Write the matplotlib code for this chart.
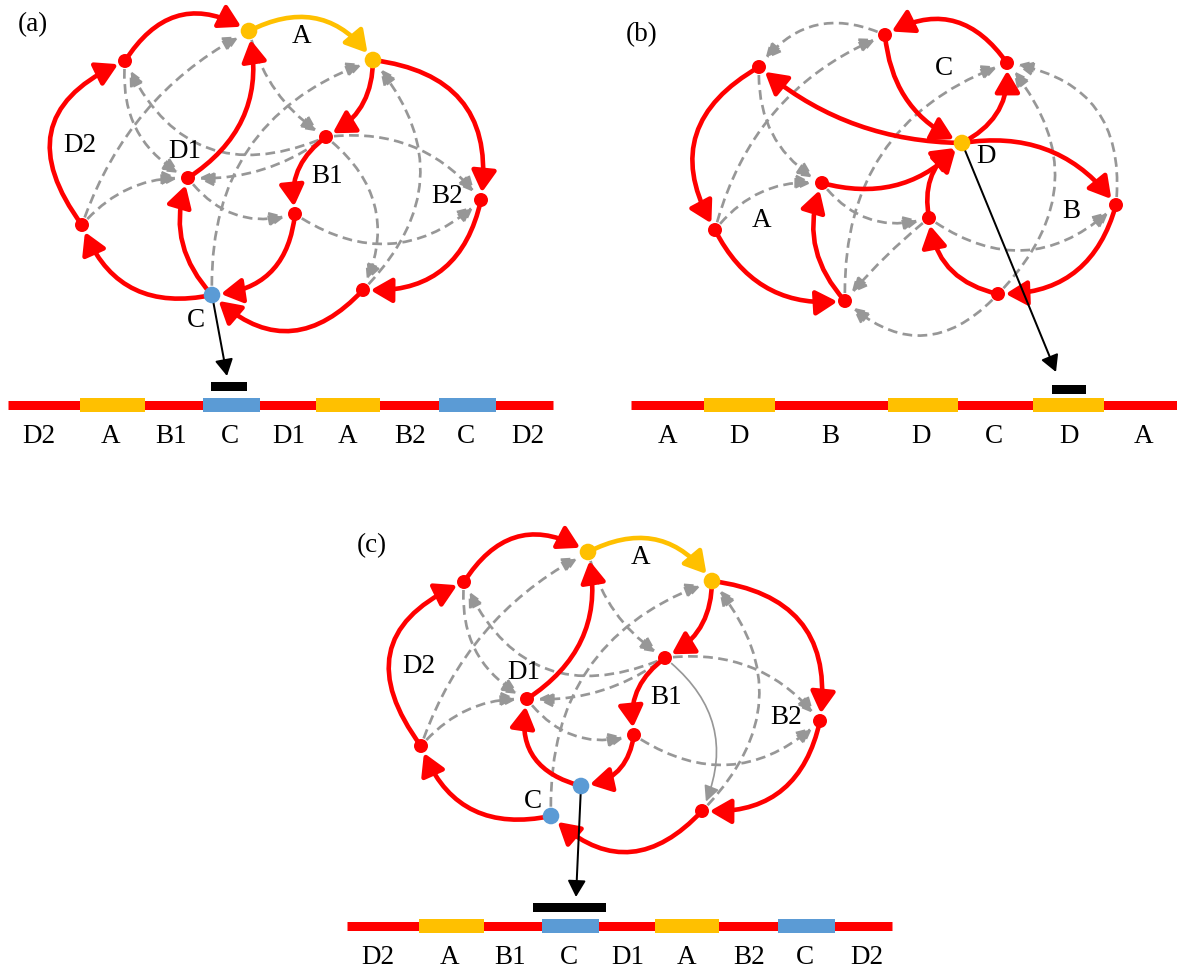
import matplotlib
matplotlib.use('Agg')
import matplotlib.pyplot as plt
from matplotlib.patches import FancyArrowPatch

plt.rcParams['font.family'] = ['Liberation Serif', 'DejaVu Serif']

RED = '#ff0000'
YELLOW = '#ffc000'
BLUE = '#5b9bd5'
GRAY = '#979797'
PT = 0.72          # points per pixel at 100 dpi
FS = 19.5

# --- graph shared by (a) and (c); (c) is drawn shifted by C_SHIFT ---
ac_pos = {
    'A1': (249, 31), 'A2': (373, 60), 'N': (125, 61), 'D1': (188, 178),
    'B1t': (326, 137), 'B1l': (295, 214), 'B2': (481, 200), 'D2': (82, 225),
    'C': (212, 295), 'BR': (363, 290), 'Cu': (242, 265),
}
ac_kind = {'A1': 'A', 'A2': 'A', 'C': 'C', 'Cu': 'C'}
C_SHIFT = (339, 521)

# (src, dst, rad) -- arc3 bend of each edge
a_red = [('D2', 'N', -0.62), ('N', 'A1', -0.48), ('A2', 'B1t', -0.3),
         ('A2', 'B2', -0.5), ('B1t', 'B1l', 0.31), ('B1l', 'C', -0.41),
         ('C', 'D1', -0.3), ('D1', 'A1', 0.34), ('C', 'D2', -0.42),
         ('B2', 'BR', -0.42), ('BR', 'C', -0.5)]
c_red = [('D2', 'N', -0.62), ('N', 'A1', -0.48), ('A2', 'B1t', -0.3),
         ('A2', 'B2', -0.5), ('B1t', 'B1l', 0.31), ('B1l', 'Cu', -0.38),
         ('Cu', 'D1', -0.47), ('D1', 'A1', 0.34), ('C', 'D2', -0.42),
         ('B2', 'BR', -0.42), ('BR', 'C', -0.5)]
ac_yellow = [('A1', 'A2', -0.42)]
ac_gray = [('D2', 'A1', -0.2), ('D2', 'D1', -0.24), ('N', 'D1', 0.33),
           ('B1t', 'N', -0.48), ('B1t', 'D1', -0.18), ('A1', 'B1t', 0.2),
           ('C', 'A2', -0.365), ('D1', 'B1l', 0.34), ('B1t', 'B2', -0.28),
           ('BR', 'A2', 0.45), ('B1l', 'B2', 0.39)]
a_gray_extra = [('B1t', 'BR', -0.39)]
c_solid_gray = [('B1t', 'BR', -0.39)]

ac_text = [('A', 302, 43), ('D2', 80, 152), ('D1', 185, 158),
           ('B1', 327, 183), ('B2', 447, 203)]
a_c_label = ('C', 196, 327)
c_c_label = ('C', 194, 287)

# --- graph (b) ---
b_pos = {
    'C1': (885, 35), 'C2': (1007, 63), 'LT': (759, 67), 'D': (962, 143),
    'M': (822, 183), 'AL': (715, 230), 'BRb': (1116, 205), 'IN': (929, 218),
    'BL': (845, 301), 'BRt': (998, 294),
}
b_kind = {'D': 'D'}
b_red = [('D', 'LT', -0.18), ('LT', 'AL', 0.5), ('AL', 'BL', 0.34),
         ('BL', 'M', -0.3), ('M', 'D', 0.3), ('C2', 'C1', 0.45),
         ('C1', 'D', 0.29), ('D', 'C2', 0.33), ('D', 'BRb', -0.3),
         ('BRb', 'BRt', -0.38), ('BRt', 'IN', -0.35), ('IN', 'D', -0.34)]
b_gray = [('C1', 'LT', 0.4), ('AL', 'C1', -0.25), ('LT', 'M', 0.3),
          ('AL', 'M', -0.27), ('BL', 'C2', -0.36), ('M', 'IN', 0.34),
          ('IN', 'BL', 0.05), ('BRt', 'BL', -0.49), ('IN', 'BRb', 0.41),
          ('BRt', 'C2', 0.45), ('BRb', 'C2', 0.47)]
b_text = [('C', 944, 75), ('D', 986, 163), ('A', 762, 227), ('B', 1071, 218)]

# --- linear sequences under each graph ---
a_track = (8, 553, 405)
a_boxes = [(80, 145, 'A'), (203, 260, 'C'), (316, 380, 'A'), (439, 496, 'C')]
a_seq = ['D2', 'A', 'B1', 'C', 'D1', 'A', 'B2', 'C', 'D2']
a_seq_x = [39, 111, 171, 230, 289, 348, 410, 466, 528]
a_mark = (211, 247, 387)
a_pointer = ('C', (227, 376))
c_mark = (194, 267, 387)
c_pointer = ('Cu', (237, 376))

b_track = (631, 1177, 405)
b_boxes = [(704, 775, 'D'), (888, 958, 'D'), (1033, 1104, 'D')]
b_seq = ['A', 'D', 'B', 'D', 'C', 'D', 'A']
b_seq_x = [668, 739, 830, 921, 994, 1069, 1144]
b_mark = (1052, 1086, 390)
b_pointer = ('D', (1056, 372))

SEQ_BASELINE = 443
panel_tags = [('(a)', 33, 25), ('(b)', 642, 35), ('(c)', 372, 546)]

kind_color = {'A': YELLOW, 'C': BLUE, 'D': YELLOW}


def node_color(kind, name):
    return kind_color.get(kind.get(name), RED)


def node_r(kind, name):
    return 8.3 if name in kind else 7


def shift(p, off):
    return (p[0] + off[0], p[1] + off[1])


def edge(ax, p, q, rad, color, lw, ls, hl, hw, sa, sb, z):
    ax.add_patch(FancyArrowPatch(
        p, q, connectionstyle=f'arc3,rad={rad}',
        arrowstyle=f'-|>,head_length={hl},head_width={hw}',
        mutation_scale=10, color=color, lw=lw, linestyle=ls,
        shrinkA=sa, shrinkB=sb, joinstyle='round', capstyle='butt',
        zorder=z))


def draw_graph(ax, pos, kind, red, yellow, gray, solid_gray, off):
    P = {k: shift(v, off) for k, v in pos.items()}
    for s, t, rad in gray:
        edge(ax, P[s], P[t], rad, GRAY, 2.7 * PT, (0, (3.6, 2.0)), 0.95, 0.46,
             (node_r(kind, s) + 1) * PT, (node_r(kind, t) + 3) * PT, 2)
    for s, t, rad in solid_gray:
        edge(ax, P[s], P[t], rad, GRAY, 1.7 * PT, '-', 0.95, 0.46,
             (node_r(kind, s) + 1) * PT, (node_r(kind, t) + 3) * PT, 2)
    for s, t, rad in red:
        edge(ax, P[s], P[t], rad, RED, 4.6 * PT, '-', 1.3, 0.75,
             0, (node_r(kind, t) + 0.5) * PT, 3)
    for s, t, rad in yellow:
        edge(ax, P[s], P[t], rad, YELLOW, 4.6 * PT, '-', 1.3, 0.75,
             0, (node_r(kind, t) + 0.5) * PT, 3)
    names = list(pos)
    xs = [P[n][0] for n in names]
    ys = [P[n][1] for n in names]
    sizes = [(2 * node_r(kind, n) * PT) ** 2 for n in names]
    cols = [node_color(kind, n) for n in names]
    ax.scatter(xs, ys, s=sizes, c=cols, linewidths=0, zorder=5)
    return P


def draw_track(ax, track, boxes, seq, seq_x, mark, off):
    x0, x1, y = track
    ax.plot([x0 + off[0], x1 + off[0]], [y + off[1]] * 2, color=RED,
            lw=9 * PT, solid_capstyle='butt', zorder=2)
    for b0, b1, k in boxes:
        ax.broken_barh([(b0 + off[0], b1 - b0)], (y + off[1] - 7, 14),
                       facecolors=kind_color[k], zorder=3)
    m0, m1, my = mark
    ax.broken_barh([(m0 + off[0], m1 - m0)], (my + off[1] - 4.5, 9),
                   facecolors='black', zorder=3)
    for s, x in zip(seq, seq_x):
        ax.text(x + off[0], SEQ_BASELINE + off[1], s, fontsize=FS,
                ha='center', va='baseline', zorder=6)


def pointer(ax, start, tip):
    ax.add_patch(FancyArrowPatch(
        start, tip, arrowstyle='-|>,head_length=1.0,head_width=0.55',
        mutation_scale=10, color='black', lw=2 * PT, shrinkA=0, shrinkB=0,
        joinstyle='round', zorder=4))


fig = plt.figure(figsize=(11.77, 9.71), dpi=100)
ax = fig.add_axes([0, 0, 1, 1])
ax.set_xlim(0, 1177)
ax.set_ylim(971, 0)
ax.axis('off')

# (a)
Pa = draw_graph(ax, {k: v for k, v in ac_pos.items() if k != 'Cu'}, ac_kind,
                a_red, ac_yellow, ac_gray + a_gray_extra, [], (0, 0))
draw_track(ax, a_track, a_boxes, a_seq, a_seq_x, a_mark, (0, 0))
pointer(ax, Pa[a_pointer[0]], a_pointer[1])
for s, x, y in ac_text + [a_c_label]:
    ax.text(x, y, s, fontsize=FS, ha='center', va='baseline', zorder=6)

# (b)
Pb = draw_graph(ax, b_pos, b_kind, b_red, [], b_gray, [], (0, 0))
draw_track(ax, b_track, b_boxes, b_seq, b_seq_x, b_mark, (0, 0))
pointer(ax, Pb[b_pointer[0]], b_pointer[1])
for s, x, y in b_text:
    ax.text(x, y, s, fontsize=FS, ha='center', va='baseline', zorder=6)

# (c)
Pc = draw_graph(ax, ac_pos, ac_kind, c_red, ac_yellow, ac_gray, c_solid_gray,
                C_SHIFT)
draw_track(ax, a_track, a_boxes, a_seq, a_seq_x, c_mark, C_SHIFT)
pointer(ax, Pc[c_pointer[0]], shift(c_pointer[1], C_SHIFT))
for s, x, y in ac_text + [c_c_label]:
    ax.text(x + C_SHIFT[0], y + C_SHIFT[1], s, fontsize=FS, ha='center',
            va='baseline', zorder=6)

for s, x, y in panel_tags:
    ax.text(x, y, s, fontsize=FS, ha='center', va='center', zorder=6)

fig.savefig('out.png', dpi=100)
